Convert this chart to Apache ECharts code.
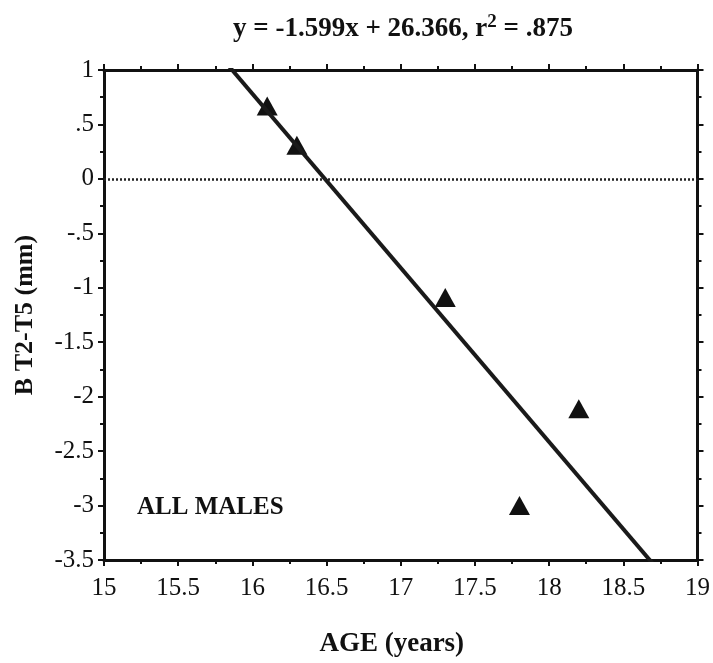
<!DOCTYPE html>
<html><head><meta charset="utf-8">
<script src="https://cdn.jsdelivr.net/npm/echarts@6/dist/echarts.min.js"></script>
<style>html,body{margin:0;padding:0;background:#fff}#c{width:713px;height:663px}</style>
</head><body><div id="c"></div>
<script>
const ageValues = [16.1, 16.3, 17.3, 17.8, 18.2];
const btValues = [0.67, 0.31, -1.09, -3.0, -2.11];
const slope = -1.599;
const intercept = 26.366;
const xTicks = [15, 15.5, 16, 16.5, 17, 17.5, 18, 18.5, 19];
const yTicks = [1, 0.5, 0, -0.5, -1, -1.5, -2, -2.5, -3, -3.5];
const yTickLabels = ['1', '.5', '0', '-.5', '-1', '-1.5', '-2', '-2.5', '-3', '-3.5'];
const titleText = 'y = -1.599x + 26.366, r';
const titleTail = ' = .875';
const groupLabel = 'ALL MALES';

const FONT = '"Liberation Serif", "DejaVu Serif", serif';
const chart = echarts.init(document.getElementById('c'));
const xMin = xTicks[0], xMax = xTicks[xTicks.length - 1];
const fitLine = [[xMin, slope * xMin + intercept], [xMax, slope * xMax + intercept]];
const axisLine = { show: true, onZero: false, lineStyle: { color: '#111', width: 3 } };
const tick = { show: true, length: 6, lineStyle: { color: '#111', width: 2 } };
const minor = { show: true, splitNumber: 2, length: 4, lineStyle: { color: '#111', width: 2 } };

chart.setOption({
  animation: false,
  backgroundColor: '#fff',
  grid: { left: 104, right: 15, top: 70, bottom: 103 },
  xAxis: [{
    type: 'value', min: xMin, max: xMax, interval: 0.5, position: 'bottom',
    axisLine, axisTick: tick, minorTick: minor, splitLine: { show: false },
    axisLabel: { fontFamily: FONT, fontSize: 25, color: '#111', margin: 16 },
    name: 'AGE (years)', nameLocation: 'middle', nameGap: 71,
    nameTextStyle: { fontFamily: FONT, fontWeight: 'bold', fontSize: 27, color: '#111', padding: [0, 18, 0, 0] }
  }, {
    type: 'value', min: xMin, max: xMax, interval: 0.5, position: 'top',
    axisLine, axisTick: tick, minorTick: minor, splitLine: { show: false }, axisLabel: { show: false }
  }],
  yAxis: [{
    type: 'value', min: -3.5, max: 1, interval: 0.5, position: 'left',
    axisLine, axisTick: tick, minorTick: minor, splitLine: { show: false },
    axisLabel: { fontFamily: FONT, fontSize: 25, color: '#111', margin: 10,
      formatter: v => { const i = yTicks.findIndex(t => Math.abs(t - v) < 1e-9); return i >= 0 ? yTickLabels[i] : ''; } },
    name: 'B T2-T5 (mm)', nameLocation: 'middle', nameGap: 66,
    nameTextStyle: { fontFamily: FONT, fontWeight: 'bold', fontSize: 26, color: '#111' }
  }, {
    type: 'value', min: -3.5, max: 1, interval: 0.5, position: 'right',
    axisLine, axisTick: tick, minorTick: minor, splitLine: { show: false }, axisLabel: { show: false }
  }],
  graphic: [{
    type: 'text', x: 403, y: 28,
    style: {
      text: '{a|' + titleText + '}{s|2}{a|' + titleTail + '}',
      align: 'center', verticalAlign: 'middle',
      rich: {
        a: { fontFamily: FONT, fontWeight: 'bold', fontSize: 27, fill: '#111', verticalAlign: 'bottom', lineHeight: 30 },
        s: { fontFamily: FONT, fontWeight: 'bold', fontSize: 19, fill: '#111', verticalAlign: 'top', lineHeight: 20 }
      }
    }
  }, {
    type: 'text', left: 137, top: 495,
    style: { text: groupLabel, fontFamily: FONT, fontWeight: 'bold', fontSize: 25, fill: '#111' }
  }],
  series: [{
    type: 'line', data: fitLine, xAxisIndex: 0, yAxisIndex: 0, clip: true,
    showSymbol: false, symbol: 'none', lineStyle: { color: '#1a1a1a', width: 4 },
    markLine: { silent: true, symbol: 'none', label: { show: false },
      lineStyle: { color: '#222', type: [2, 2], width: 2.5 }, data: [{ yAxis: 0 }] }
  }, {
    type: 'scatter', data: ageValues.map((a, i) => [a, btValues[i]]),
    symbol: 'triangle', symbolSize: [21, 19],
    itemStyle: { color: '#111', opacity: 1 }
  }]
});
</script></body></html>
